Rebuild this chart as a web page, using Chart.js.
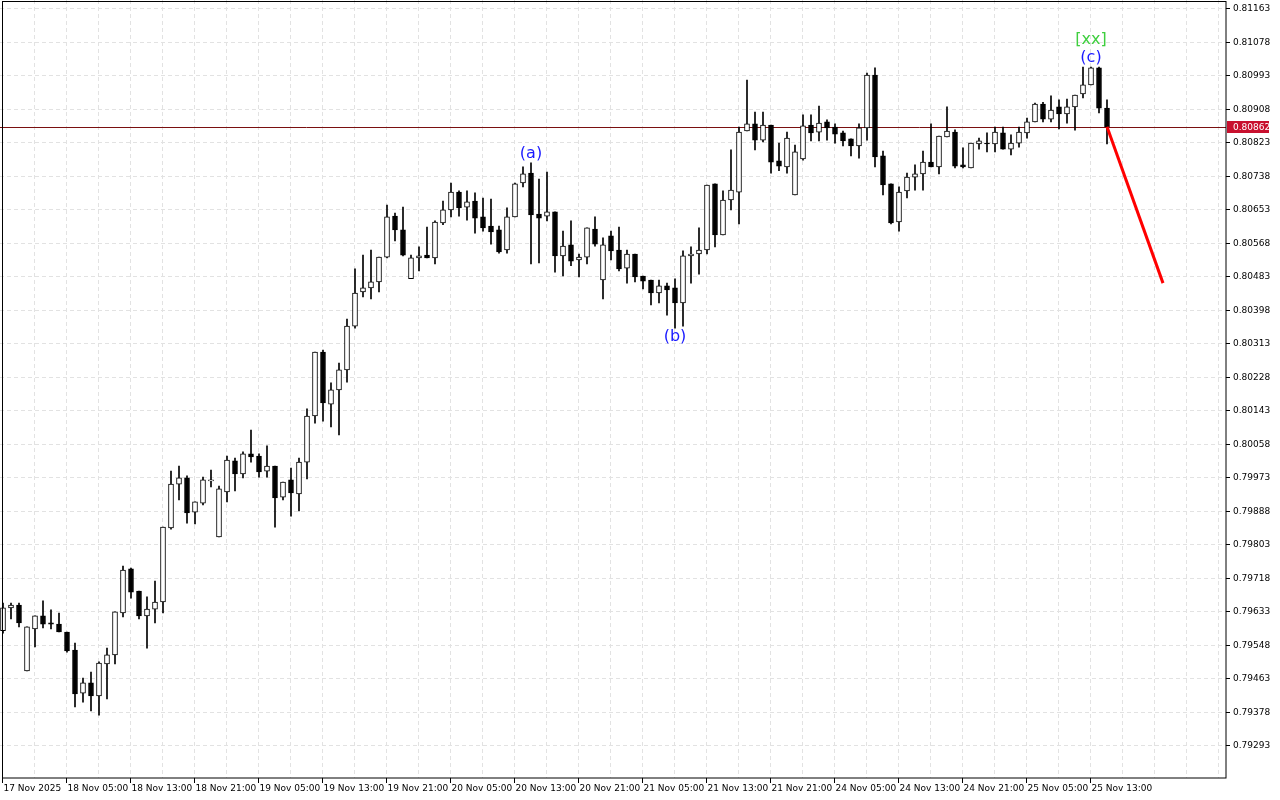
<!DOCTYPE html>
<html>
<head>
<meta charset="utf-8">
<script src="https://cdn.jsdelivr.net/npm/chart.js@4"></script>
<style>
  html, body { margin: 0; padding: 0; background: #fff; }
  #c { display: block; }
</style>
</head>
<body>
<canvas id="c" width="1280" height="800"></canvas>
<script>
// H1 candles, prices in 1e-5 units
const opens = [
  79583,79641,79648,79481,79588,79621,79603,79600,79580,79534,
  79425,79451,79418,79499,79522,79628,79740,79684,79621,79638,
  79656,79844,79955,79971,79884,79907,79963,79821,79935,80014,
  79981,80032,80026,79988,80001,79922,79966,79930,80011,80128,
  80290,80158,80194,80245,80356,80443,80453,80468,80531,80635,
  80600,80476,80529,80536,80529,80618,80651,80696,80658,80673,
  80633,80610,80600,80549,80633,80719,80744,80640,80635,80646,
  80534,80562,80524,80531,80602,80473,80585,80549,80503,80539,
  80483,80473,80440,80458,80453,80415,80534,80539,80549,80717,
  80587,80676,80696,80851,80869,80828,80866,80775,80760,80689,
  80780,80866,80848,80874,80861,80846,80831,80813,80859,80993,
  80788,80717,80620,80699,80734,80742,80772,80760,80836,80848,
  80765,80757,80818,80820,80818,80846,80805,80820,80846,80874,
  80919,80881,80912,80894,80912,80945,80968,81011,80909
];
const closes = [
  79641,79648,79603,79593,79621,79600,79600,79580,79532,79423,
  79451,79418,79501,79522,79631,79737,79681,79621,79638,79656,
  79846,79955,79971,79882,79910,79966,79966,79943,80016,79981,
  80032,80024,79986,80001,79920,79960,79933,80011,80128,80290,
  80161,80194,80245,80356,80440,80453,80468,80531,80633,80600,
  80536,80529,80534,80529,80620,80651,80696,80656,80671,80630,
  80605,80595,80544,80633,80717,80742,80638,80630,80646,80534,
  80559,80521,80531,80605,80564,80562,80547,80501,80539,80481,
  80470,80440,80458,80448,80415,80534,80539,80549,80714,80587,
  80676,80701,80848,80869,80828,80866,80772,80762,80833,80798,
  80864,80846,80871,80859,80843,80826,80813,80859,80993,80785,
  80714,80618,80696,80734,80742,80772,80760,80838,80851,80762,
  80760,80820,80826,80818,80848,80805,80820,80848,80874,80919,
  80881,80904,80894,80912,80942,80968,81011,80909,80862
];
const highs = [
  79653,79653,79653,79593,79621,79659,79636,79628,79580,79552,
  79463,79478,79504,79539,79631,79747,79742,79684,79669,79709,
  79846,79988,80001,79976,79910,79973,79991,79950,80026,80021,
  80037,80092,80032,80052,80001,79960,79996,80021,80146,80290,
  80295,80212,80262,80374,80501,80536,80549,80531,80663,80643,
  80658,80536,80557,80607,80623,80673,80719,80699,80699,80694,
  80681,80678,80610,80656,80719,80760,80770,80729,80747,80646,
  80597,80623,80539,80605,80633,80580,80597,80607,80549,80539,
  80483,80473,80473,80465,80476,80547,80557,80605,80714,80717,
  80699,80803,80861,80980,80899,80899,80866,80820,80848,80815,
  80892,80892,80914,80879,80869,80851,80831,80869,80998,81011,
  80800,80717,80709,80744,80765,80800,80869,80838,80912,80854,
  80808,80820,80833,80846,80861,80861,80841,80861,80884,80922,
  80924,80940,80930,80932,80942,81013,81013,81013,80930
];
const lows = [
  79577,79613,79593,79481,79542,79590,79588,79580,79529,79390,
  79402,79380,79369,79410,79499,79618,79666,79613,79539,79603,
  79628,79841,79915,79856,79854,79902,79948,79821,79910,79938,
  79971,80011,79973,79973,79846,79915,79874,79887,79968,80110,
  80115,80100,80080,80214,80351,80430,80425,80443,80529,80572,
  80534,80476,80496,80529,80514,80613,80633,80635,80625,80592,
  80597,80564,80541,80541,80633,80709,80514,80516,80623,80493,
  80483,80509,80481,80514,80559,80425,80524,80496,80465,80468,
  80450,80410,80415,80384,80351,80356,80465,80488,80539,80557,
  80587,80651,80615,80851,80803,80823,80744,80750,80744,80689,
  80777,80826,80826,80828,80820,80813,80788,80782,80828,80760,
  80689,80615,80597,80681,80701,80701,80760,80742,80836,80757,
  80757,80757,80805,80798,80798,80805,80790,80810,80833,80874,
  80874,80874,80856,80871,80853,80935,80968,80897,80818
];

const timeLabels = [
  '17 Nov 2025','18 Nov 05:00','18 Nov 13:00','18 Nov 21:00','19 Nov 05:00','19 Nov 13:00',
  '19 Nov 21:00','20 Nov 05:00','20 Nov 13:00','20 Nov 21:00','21 Nov 05:00','21 Nov 13:00',
  '21 Nov 21:00','24 Nov 05:00','24 Nov 13:00','24 Nov 21:00','25 Nov 05:00','25 Nov 13:00'
];
const priceTicks = [
  0.81163,0.81078,0.80993,0.80908,0.80823,0.80738,0.80653,0.80568,0.80483,0.80398,
  0.80313,0.80228,0.80143,0.80058,0.79973,0.79888,0.79803,0.79718,0.79633,0.79548,
  0.79463,0.79378,0.79293
];
const currentPrice = 0.80862;
const forecast = [{ x: 138, y: 0.80862 }, { x: 145, y: 0.80465 }];
const waveMarks = [
  { i: 66, text: '(a)', pos: 'above', color: '#1a1aff' },
  { i: 84, text: '(b)', pos: 'below', color: '#1a1aff' },
  { i: 136, text: '(c)', pos: 'above', color: '#1a1aff' }
];

const P = v => v / 100000;
const wicks = lows.map((l, i) => ({ x: i, y: [P(l), P(highs[i])] }));
const bodies = opens.map((o, i) => ({ x: i, y: [P(o), P(closes[i])] }));
const bodyColors = opens.map((o, i) => closes[i] >= o ? '#ffffff' : '#000000');

const FONT = '9px "DejaVu Sans"';

const mtPlugin = {
  id: 'mt',
  beforeDatasetsDraw(chart) {
    const { ctx, chartArea: a, scales: { x, y } } = chart;
    ctx.save();
    ctx.strokeStyle = '#e2e2e2';
    ctx.lineWidth = 1;
    ctx.setLineDash([4, 3]);
    priceTicks.forEach(p => {
      const py = Math.round(y.getPixelForValue(p)) + 0.5;
      ctx.beginPath(); ctx.moveTo(a.left, py); ctx.lineTo(a.right, py); ctx.stroke();
    });
    for (let i = 4; i < 153; i += 4) {
      const px = Math.round(x.getPixelForValue(i)) - 0.5;
      ctx.beginPath(); ctx.moveTo(px, a.top); ctx.lineTo(px, a.bottom); ctx.stroke();
    }
    ctx.setLineDash([]);
    // current price line
    const cy = Math.round(y.getPixelForValue(currentPrice)) + 0.5;
    ctx.strokeStyle = '#7a1010';
    ctx.beginPath(); ctx.moveTo(a.left, cy); ctx.lineTo(a.right, cy); ctx.stroke();
    ctx.restore();
  },
  afterDraw(chart) {
    const { ctx, chartArea: a, scales: { x, y } } = chart;
    ctx.save();
    ctx.strokeStyle = '#000';
    ctx.lineWidth = 1;
    ctx.strokeRect(2.5, 1.5, a.right - 2.5, a.bottom - 1.5);
    ctx.font = FONT;
    ctx.fillStyle = '#000';
    ctx.textBaseline = 'middle';
    ctx.textAlign = 'left';
    priceTicks.forEach(p => {
      const py = Math.round(y.getPixelForValue(p)) + 0.5;
      ctx.beginPath(); ctx.moveTo(a.right, py); ctx.lineTo(a.right + 4, py); ctx.stroke();
      ctx.fillText(p.toFixed(5), a.right + 7, py);
    });
    ctx.textBaseline = 'top';
    timeLabels.forEach((t, k) => {
      const px = Math.round(x.getPixelForValue(k * 8)) - 0.5;
      ctx.beginPath(); ctx.moveTo(px, a.bottom); ctx.lineTo(px, a.bottom + 5); ctx.stroke();
      ctx.fillText(t, px + 1, a.bottom + 6);
    });
    // current price tag
    const cy = Math.round(y.getPixelForValue(currentPrice));
    ctx.fillStyle = '#c8102e';
    ctx.fillRect(a.right + 1, cy - 6, 42, 12);
    ctx.fillStyle = '#fff';
    ctx.textBaseline = 'middle';
    ctx.fillText(currentPrice.toFixed(5), a.right + 7, cy + 0.5);
    // wave labels
    ctx.font = '16px "DejaVu Sans"';
    ctx.textAlign = 'center';
    waveMarks.forEach(m => {
      const px = x.getPixelForValue(m.i);
      ctx.fillStyle = m.color;
      if (m.pos === 'above') {
        ctx.textBaseline = 'bottom';
        ctx.fillText(m.text, px, y.getPixelForValue(P(highs[m.i])) - 1);
      } else {
        ctx.textBaseline = 'top';
        ctx.fillText(m.text, px, y.getPixelForValue(P(lows[m.i])) + 1);
      }
    });
    ctx.fillStyle = '#3fcf3f';
    ctx.textBaseline = 'bottom';
    ctx.fillText('[xx]', x.getPixelForValue(136), y.getPixelForValue(P(highs[136])) - 19);
    ctx.restore();
  }
};

new Chart(document.getElementById('c'), {
  type: 'bar',
  data: {
    datasets: [
      {
        type: 'line',
        data: forecast,
        borderColor: '#ff0000',
        borderWidth: 3,
        pointRadius: 0,
        order: 0
      },
      {
        data: wicks,
        backgroundColor: '#000',
        barThickness: 1,
        grouped: false,
        order: 2
      },
      {
        data: bodies,
        backgroundColor: bodyColors,
        borderColor: '#000',
        borderWidth: 1,
        borderSkipped: false,
        barThickness: 5,
        grouped: false,
        order: 1
      }
    ]
  },
  options: {
    responsive: false,
    animation: false,
    devicePixelRatio: 1,
    layout: { padding: { left: 0, top: 0, right: 54, bottom: 22 } },
    plugins: { legend: { display: false }, tooltip: { enabled: false } },
    scales: {
      x: { type: 'linear', min: -0.375, max: 152.875, offset: false, display: false },
      y: { min: 0.792095, max: 0.811833, display: false }
    }
  },
  plugins: [mtPlugin]
});
</script>
</body>
</html>
